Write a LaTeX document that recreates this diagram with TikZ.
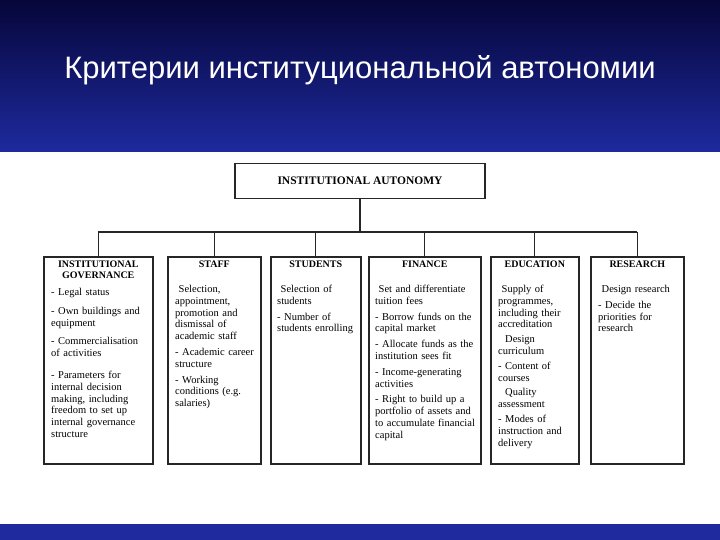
\documentclass[tikz,border=0pt]{standalone}
\usepackage{fontspec}
\setmainfont{Liberation Serif}
\newfontfamily\titlefont{Liberation Sans}
\definecolor{navyA}{HTML}{06063A}
\definecolor{navyB}{HTML}{1E2A9E}
\begin{document}
\begin{tikzpicture}[x=1pt,y=-1pt,
  box/.style={draw=black!85,line width=1.6pt},
  head/.style={font=\fontsize{10}{11.5}\selectfont\bfseries,align=center,anchor=north},
  body/.style={font=\fontsize{10.5}{11.8}\selectfont,align=left,anchor=north west,text width=#1,inner sep=0pt},
  link/.style={draw=black!85,line width=1.2pt}]
\useasboundingbox (0,0) rectangle (720,540);
\shade[top color=navyA,bottom color=navyB] (0,0) rectangle (720,152);
\fill[white] (0,152) rectangle (720,524);
\fill[navyB] (0,524) rectangle (720,540);
\node[text=white,font=\titlefont\fontsize{31}{34}\selectfont] (title) at (360,70) {Критерии институциональной автономии};
\node[box,minimum width=250pt,minimum height=35pt,font=\fontsize{11.5}{13}\selectfont\bfseries] (top) at (360,181) {INSTITUTIONAL AUTONOMY};
\coordinate (bus) at (360,232);
% columns
\node[box,minimum width=109pt,minimum height=207pt,anchor=north west] (c1) at (43,256) {};
\node[box,minimum width=93pt,minimum height=207pt,anchor=north west] (c2) at (167,256) {};
\node[box,minimum width=90pt,minimum height=207pt,anchor=north west] (c3) at (270,256) {};
\node[box,minimum width=112pt,minimum height=207pt,anchor=north west] (c4) at (368,256) {};
\node[box,minimum width=88pt,minimum height=207pt,anchor=north west] (c5) at (490,256) {};
\node[box,minimum width=93pt,minimum height=207pt,anchor=north west] (c6) at (590,256) {};
\draw[link] (top.south) -- (bus);
\draw[link] (c1.north |- bus) -- (c6.north |- bus);
\foreach \c in {c1,c2,c3,c4,c5,c6} \draw[link] (\c.north |- bus) -- (\c.north);
% headings
\node[head] (h1) at ([yshift=-1pt]c1.north) {INSTITUTIONAL\\GOVERNANCE};
\node[head] (h2) at ([yshift=-1pt]c2.north) {STAFF};
\node[head] (h3) at ([yshift=-1pt]c3.north) {STUDENTS};
\node[head] (h4) at ([yshift=-1pt]c4.north) {FINANCE};
\node[head] (h5) at ([yshift=-1pt]c5.north) {EDUCATION};
\node[head] (h6) at ([yshift=-1pt]c6.north) {RESEARCH};
% bodies
\begin{scope}[every node/.append style={execute at begin node=\raggedright}]
\node[body=98pt] (b1) at (51,288) {- Legal status\\[7pt]- Own buildings and equipment\\[7pt]- Commercialisation of activities\\[10pt]- Parameters for internal decision making, including freedom to set up internal governance structure};
\node[body=86pt] (b2) at (175,285) {\ Selection, appointment, promotion and dismissal of academic staff\\[4pt]- Academic career structure\\[4pt]- Working conditions (e.g. salaries)};
\node[body=84pt] (b3) at (277,285) {\ Selection of students\\[4pt]- Number of students enrolling};
\node[body=106pt] (b4) at (375,285) {\ Set and differentiate tuition fees\\[4pt]- Borrow funds on the capital market\\[4pt]- Allocate funds as the institution sees fit\\[4pt]- Income-generating activities\\[4pt]- Right to build up a portfolio of assets and to accumulate financial capital};
\node[body=80pt] (b5) at (498,285) {\ Supply of programmes, including their accreditation\\[3pt]\ \ Design curriculum\\[3pt]- Content of courses\\[3pt]\ \ Quality assessment\\[3pt]- Modes of instruction and delivery};
\node[body=82pt] (b6) at (598,285) {\ Design research\\[4pt]- Decide the priorities for research};
\end{scope}
\end{tikzpicture}
\end{document}
